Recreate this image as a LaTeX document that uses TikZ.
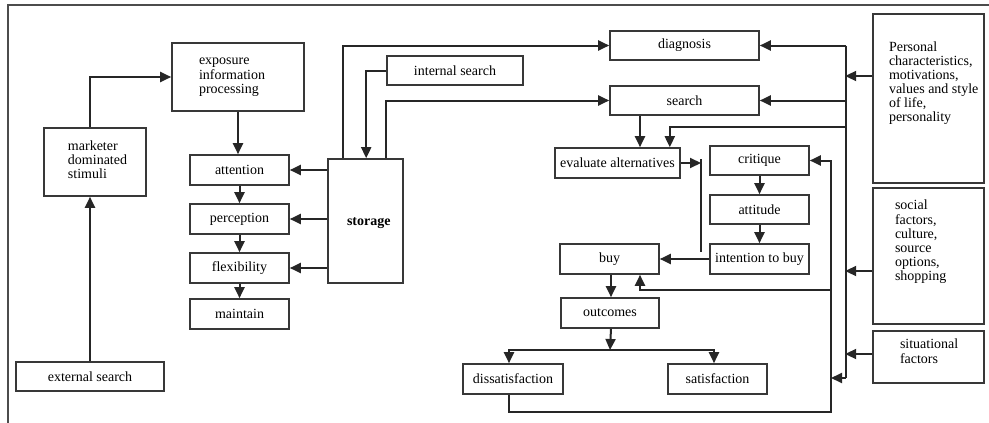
\documentclass[tikz,border=0pt]{standalone}
\usepackage{fontspec}
\setmainfont{Liberation Serif}
\usetikzlibrary{arrows.meta,calc}
\newcommand\padbox[5]{\parbox[c][#2][t]{#1}{\vspace*{#4}\raggedright\leftskip=#3\relax\strut #5}}
\begin{document}
\begin{tikzpicture}[x=1pt,y=-1pt,
  box/.style={draw=black!78, line width=1.6pt, inner sep=0pt, minimum height=30pt, font=\fontsize{14}{14}\selectfont},
  tbox/.style={draw=black!78, line width=1.6pt, inner sep=0pt, font=\fontsize{14}{14}\selectfont},
  conn/.style={draw=black!85, line width=2pt},
  arr/.style={conn, -{Triangle[length=11pt,width=10pt]}},
]
\useasboundingbox (0,0) rectangle (989,423);
\draw[black!70, line width=1.3pt] (8,423) -- (8,5) -- (989,5);

% left part
\node[tbox] (expo) at (238,77) {\padbox{132pt}{68pt}{27pt}{12pt}{exposure\\information\\processing}};
\node[tbox] (mark) at (95,162) {\padbox{102pt}{68pt}{24pt}{13pt}{marketer\\dominated\\stimuli}};
\node[box, minimum width=148pt, minimum height=29pt] (ext) at (90,376.5) {external search};
\node[box, minimum width=99pt] (att) at (239.5,170) {attention};
\node[box, minimum width=99pt] (perc) at (239.5,219) {perception};
\node[box, minimum width=99pt] (flex) at (239.5,268) {flexibility};
\node[box, minimum width=99pt] (maint) at (239.5,314) {maintain};
\node[box, minimum width=75pt, minimum height=124pt] (stor) at (365.5,221) {\padbox{75pt}{124pt}{19pt}{57pt}{\bfseries storage}};
\node[box, minimum width=136pt, minimum height=29pt] (ints) at (455,70.5) {internal search};

% middle part
\node[box, minimum width=149pt, minimum height=29pt] (diag) at (684.5,45.5) {diagnosis};
\node[box, minimum width=149pt, minimum height=29pt] (srch) at (684.5,100.5) {search};
\node[box, minimum width=125pt] (eval) at (617.5,163) {evaluate alternatives};
\node[box, minimum width=99pt, minimum height=29pt] (crit) at (759.5,160.5) {critique};
\node[box, minimum width=99pt, minimum height=29pt] (attd) at (759.5,209.5) {attitude};
\node[box, minimum width=99pt] (intb) at (759.5,259) {intention to buy};
\node[box, minimum width=99pt] (buy) at (609.5,259) {buy};
\node[box, minimum width=98pt] (outc) at (610,313) {outcomes};
\node[box, minimum width=100pt] (dis) at (513,379) {dissatisfaction};
\node[box, minimum width=99pt] (sat) at (717.5,379) {satisfaction};

% right part
\node[tbox] (pers) at (928.5,98.5) {\padbox{111pt}{169pt}{16pt}{28pt}{Personal\\characteristics,\\motivations,\\values and style\\of life,\\personality}};
\node[tbox] (soc) at (928.5,256) {\padbox{111pt}{136pt}{22pt}{12pt}{social\\factors,\\culture,\\source\\options,\\shopping}};
\node[tbox] (sit) at (928.5,357) {\padbox{111pt}{52pt}{27pt}{8pt}{situational\\factors}};

\coordinate (bus) at (846,378);
\coordinate (fbx) at (831,412);
\coordinate (sp) at (610,350);
\coordinate (bar) at (701,159);

% left connectors
\draw[arr] (ext.north) -- (ext.north |- mark.south);
\draw[arr] (ext.north |- mark.north) |- (expo.west);
\draw[arr] (expo.south) -- (expo.south |- att.north);
\draw[arr] (att.south) -- (perc.north);
\draw[arr] (perc.south) -- (flex.north);
\draw[arr] (flex.south) -- (maint.north);
\draw[arr] (stor.west |- att.east) -- (att.east);
\draw[arr] (stor.west |- perc.east) -- (perc.east);
\draw[arr] (stor.west |- flex.east) -- (flex.east);
\draw[arr] (ints.west) -| ([xshift=39pt]stor.north west);
\draw[arr] ([xshift=16pt]stor.north west) |- (diag.west);
\draw[arr] ([xshift=59pt]stor.north west) |- (srch.west);

% middle connectors
\draw[arr] ([xshift=-44.5pt]srch.south) -- ([xshift=22.5pt]eval.north);
\draw[conn] (bar) -- ++(0,93);
\draw[arr] (eval.east) -- (bar |- eval.east);
\draw[arr] (crit.south) -- (attd.north);
\draw[arr] (attd.south) -- (intb.north);
\draw[arr] (intb.west) -- (buy.east);
\draw[arr] ([xshift=1.5pt]buy.south) -- ([xshift=1pt]outc.north);
\draw[arr] ([xshift=1pt]outc.south) -- (sp);
\draw[arr] (sp) -| ([xshift=-4pt]dis.north);
\draw[arr] (sp) -| ([xshift=-3.5pt]sat.north);
\draw[arr] ([xshift=-4pt]dis.south) |- (fbx) |- (crit.east);
\draw[arr] (fbx |- 0,290) -| ([xshift=30.5pt]buy.south);

% bus and right connectors
\draw[conn] (bus |- diag.east) -- (bus);
\draw[arr] (bus |- diag.east) -- (diag.east);
\draw[arr] (bus |- srch.east) -- (srch.east);
\draw[arr] (bus |- 0,127) -| ([xshift=-11pt]eval.north east);
\draw[arr] (bus) -- (fbx |- bus);
\draw[arr] ([yshift=22.5pt]pers.west) -- ++(-27,0);
\draw[arr] ([yshift=-15pt]soc.west) -- ++(-27,0);
\draw[arr] ([yshift=3pt]sit.west) -- ++(-27,0);
\end{tikzpicture}
\end{document}
